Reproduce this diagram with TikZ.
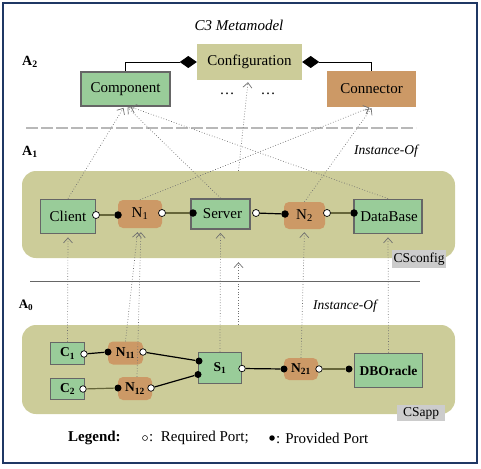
\documentclass[tikz,border=0pt]{standalone}
\usepackage{fontspec}
\setmainfont{Liberation Serif}
\usetikzlibrary{arrows.meta,calc}
\definecolor{boxgreen}{HTML}{99CC99}
\definecolor{boxorange}{HTML}{CC9966}
\definecolor{panelcol}{HTML}{CCCC99}
\definecolor{frameblue}{HTML}{1F3864}
\definecolor{bordergray}{HTML}{666666}
\definecolor{olivel}{HTML}{66663A}
\definecolor{tagray}{HTML}{CCCCCC}
\definecolor{instgray}{HTML}{707070}
\definecolor{sepgray}{HTML}{B8B8B8}
\begin{document}
\begin{tikzpicture}[x=1pt,y=-1pt,
  fA/.style={font=\fontsize{15}{17}\selectfont},
  fB/.style={font=\fontsize{13.5}{15}\selectfont\bfseries},
  comp/.style={draw=bordergray, line width=1.8pt, fill=boxgreen, inner sep=0pt},
  conn/.style={fill=boxorange, rounded corners=5pt, inner sep=0pt},
  panel/.style={fill=panelcol, rounded corners=14pt, inner sep=0pt},
  tagbox/.style={fill=tagray, inner sep=0pt, font=\fontsize{13.5}{15}\selectfont},
  reqport/.style={circle, draw=black, fill=white, line width=0.7pt, minimum size=7pt, inner sep=0pt},
  provport/.style={circle, fill=black, minimum size=7.5pt, inner sep=0pt},
  plineO/.style={olivel, line width=1.2pt},
  plineK/.style={black, line width=1.2pt},
  inst/.style={instgray, dotted, line width=0.7pt, -{Straight Barb[length=5pt,width=9pt]}},
  lvl/.style={font=\fontsize{14}{16}\selectfont\bfseries, inner sep=0pt},
  ital/.style={font=\fontsize{13.5}{15}\selectfont\itshape, inner sep=0pt}
]
\useasboundingbox (0,0) rectangle (481,468);
\draw[frameblue, line width=1.5pt] (3,3) rectangle (477,463);

% titles and level labels
\node[font=\fontsize{15}{17}\selectfont\itshape, inner sep=0pt] (title) at (239,25) {C3 Metamodel};
\node[lvl] (A2) at (30,62) {A\textsubscript{2}};
\node[lvl] (A1) at (30,152) {A\textsubscript{1}};
\node[lvl, font=\fontsize{13}{15}\selectfont\bfseries] (A0) at (26,305) {A\textsubscript{0}};
\node[ital] (inst1) at (386,151) {Instance-Of};
\node[ital] (inst0) at (345,306) {Instance-Of};

% separators
\draw[sepgray, line width=1.4pt, dash pattern=on 12pt off 3pt] (26,128) -- (416,128);
\draw[gray!80!black, line width=0.6pt] (30,281) -- (420,281);

% A2 level
\node[fill=panelcol, inner sep=0pt, minimum width=105pt, minimum height=36pt, fA] (config) at (249.5,62) {Configuration};
\node[comp, minimum width=89pt, minimum height=34pt, fA] (component) at (125.5,89) {Component};
\node[fill=boxorange, inner sep=0pt, minimum width=89pt, minimum height=36pt, fA] (connector) at (371.5,89) {Connector};
\draw[black, line width=0.8pt, {Diamond[length=17pt,width=12pt]}-] (config.west) -| (component.north);
\draw[black, line width=0.8pt, {Diamond[length=17pt,width=12pt]}-] (config.east) -| (connector.north);
\node[fA, inner sep=0pt] (dots1) at (227,94) {\dots};
\node[fA, inner sep=0pt] (dots2) at (268,94) {\dots};

% panels
\node[panel, minimum width=433pt, minimum height=87pt] (cfgpanel) at (238.5,214.5) {};
\node[panel, minimum width=433pt, minimum height=89pt] (apppanel) at (238.5,369.5) {};
\node[tagbox, minimum width=54pt, minimum height=18pt] (cfgtag) at (419,259) {CSconfig};
\node[tagbox, minimum width=48pt, minimum height=16pt] (apptag) at (421,413) {CSapp};

% A1 level
\node[comp, minimum width=55pt, minimum height=34pt, fA] (client) at (68,216.5) {Client};
\node[conn, minimum width=44pt, minimum height=28pt, fA] (n1) at (140,214) {N\textsubscript{1}};
\node[comp, minimum width=59pt, minimum height=30pt, fA] (server) at (220.5,214) {\hspace*{4pt}Server};
\node[conn, minimum width=41pt, minimum height=27pt, fA] (n2) at (304.5,215.5) {N\textsubscript{2}};
\node[comp, minimum width=68pt, minimum height=34pt, fA] (db) at (388,216.5) {\hspace*{2pt}DataBase};

% A0 level
\node[comp, minimum width=34pt, minimum height=22pt, fB] (c1) at (67.5,353.5) {C\textsubscript{1}};
\node[conn, minimum width=35pt, minimum height=23pt, fB] (n11) at (125.5,353) {N\textsubscript{11}};
\node[comp, minimum width=34pt, minimum height=21pt, fB] (c2) at (67.5,389) {C\textsubscript{2}};
\node[conn, minimum width=34pt, minimum height=23pt, fB] (n12) at (135,388.5) {N\textsubscript{12}};
\node[comp, minimum width=43pt, minimum height=31pt, fB] (s1) at (220,368) {S\textsubscript{1}};
\node[conn, minimum width=34pt, minimum height=22pt, fB] (n21) at (301,369) {N\textsubscript{21}};
\node[comp, minimum width=68pt, minimum height=34pt, fB] (dbo) at (388.5,370.5) {DBOracle};

% ports A1
\node[reqport] (clR) at (96,215) {};
\node[provport] (n1L) at (118,215) {};
\node[reqport] (n1R) at (162,213) {};
\node[provport] (svL) at (193,213) {};
\node[reqport] (svR) at (256,213) {};
\node[provport] (n2L) at (285,214) {};
\node[reqport] (n2R) at (327,213) {};
\node[provport] (dbL) at (354,213) {};
% ports A0
\node[reqport, minimum size=6.5pt] (c1R) at (84,354) {};
\node[provport, minimum size=7pt] (n11L) at (108,352) {};
\node[reqport, minimum size=6.5pt] (n11R) at (143,352) {};
\node[provport, minimum size=7pt] (s1La) at (199,361) {};
\node[provport, minimum size=7pt] (s1Lb) at (198,374.5) {};
\node[reqport, minimum size=6.5pt] (s1R) at (242,368.5) {};
\node[provport, minimum size=7pt] (n21L) at (284,369) {};
\node[reqport, minimum size=6.5pt] (n21R) at (319,369) {};
\node[provport, minimum size=7pt] (dboL) at (349,369) {};
\node[reqport, minimum size=6.5pt] (c2R) at (83,389) {};
\node[provport, minimum size=7pt] (n12L) at (118,388) {};
\node[reqport, minimum size=6.5pt] (n12R) at (151,388) {};

% port connections
\draw[plineO] (clR) -- (n1L);
\draw[plineO] (n1R) -- (svL);
\draw[plineK] (svR) -- (n2L);
\draw[plineO] (n2R) -- (dbL);
\draw[plineK] (c1R) -- (n11L);
\draw[plineK] (n11R) -- (s1La);
\draw[plineO] (c2R) -- (n12L);
\draw[plineK] (n12R) -- (s1Lb);
\draw[plineK] (s1R) -- (n21L);
\draw[plineO] (n21R) -- (dboL);

% instance-of arrows A1 -> A2
\draw[inst] (client.north) -- ($(component.south)+(-2,1)$);
\draw[inst] (server.north) -- ($(component.south)+(2,0.5)$);
\draw[inst] (db.north) -- ($(component.south)+(5,0)$);
\draw[inst] (n1.north) -- ($(connector.south)+(-2,0.5)$);
\draw[inst] (n2.north) -- ($(connector.south)+(0,1)$);
\draw[inst] (cfgpanel.north) -- ($(config.south)+(-1.5,2)$);
% instance-of arrows A0 -> A1
\draw[inst, shorten >=3pt] (c1.north) -- (client.south);
\draw[inst, shorten >=4pt] (n11.north) -- ($(n1.south)+(-2,0)$);
\draw[inst, shorten >=4pt] ($(n12.north)+(2,0)$) -- ($(n1.south)+(1,0)$);
\draw[inst, shorten >=3pt] (s1.north) -- (server.south);
\draw[inst, shorten >=4pt] (apppanel.north) -- (cfgpanel.south);
\draw[inst, shorten >=3pt] (n21.north) -- (n2.south);
\draw[inst, shorten >=3pt] (dbo.north) -- (db.south);

% legend
\node[font=\fontsize{15}{17}\selectfont\bfseries, anchor=west, inner sep=0pt] (leg) at (68,438) {Legend:};
\node[reqport, minimum size=5pt, line width=0.5pt] (legR) at (145,438) {};
\node[fA, anchor=west, inner sep=0pt] (legRt) at (149,438) {:\ \ Required Port;};
\node[provport, minimum size=5.5pt] (legP) at (272,438) {};
\node[fA, anchor=west, inner sep=0pt] (legPt) at (276,438) {: Provided Port};
\end{tikzpicture}
\end{document}
